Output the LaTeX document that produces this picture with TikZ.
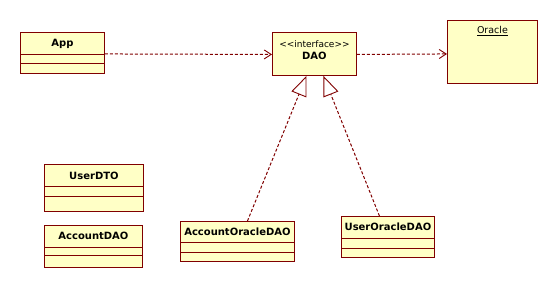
\documentclass[tikz,border=0pt]{standalone}
\usepackage{fontspec}
\setmainfont{DejaVu Sans}
\usetikzlibrary{arrows.meta}
\definecolor{umlfill}{HTML}{FFFFC6}
\definecolor{umlred}{HTML}{800000}

\tikzset{
    cls/.style={draw=umlred, fill=umlfill, line width=0.9pt, anchor=north west, inner sep=0pt},
    clsname/.style={font=\fontsize{10}{12}\selectfont\bfseries, inner sep=0pt},
    divider/.style={draw=umlred, line width=0.9pt},
    dep/.style={umlred, line width=1pt, dash pattern=on 3pt off 2pt,
        -{Straight Barb[length=7pt,width=9pt,line width=0.9pt]}},
    realize/.style={umlred, line width=1pt, dash pattern=on 3pt off 2pt,
        -{Triangle[open,length=20pt,width=16pt,fill=white,line width=0.9pt]}},
}

\begin{document}
\begin{tikzpicture}[x=1pt,y=-1pt]
    \useasboundingbox (0,0) rectangle (556,288);
    % % ----- classes ----- % %
    \node[cls, minimum width=84pt, minimum height=41pt] (app) at (20,32) {};		% App
    \node[clsname] (appname) at ([yshift=-12pt]app.north) {App};
    \draw[divider] ([yshift=-22pt]app.north west) -- ([yshift=-22pt]app.north east);
    \draw[divider] ([yshift=-31pt]app.north west) -- ([yshift=-31pt]app.north east);

    \node[cls, minimum width=84pt, minimum height=43pt] (dao) at (272,32) {};		% DAO
    \node[inner sep=0pt, font=\fontsize{9}{11}\selectfont] (daostereo) at ([yshift=-12pt]dao.north) {<\kern0pt<interface>\kern0pt>};
    \node[clsname] (daoname) at ([yshift=-24pt]dao.north) {DAO};

    \node[cls, minimum width=90pt, minimum height=63pt] (oracle) at (447,20) {};	% Oracle
    \node[inner sep=0pt, font=\fontsize{9.5}{11}\selectfont] (oraclename) at ([yshift=-11pt]oracle.north) {\underline{Oracle}};

    \node[cls, minimum width=99pt, minimum height=47pt] (userdto) at (44,164) {};	% UserDTO
    \node[clsname] (userdtoname) at ([yshift=-12pt]userdto.north) {UserDTO};
    \draw[divider] ([yshift=-22pt]userdto.north west) -- ([yshift=-22pt]userdto.north east);
    \draw[divider] ([yshift=-32pt]userdto.north west) -- ([yshift=-32pt]userdto.north east);

    \node[cls, minimum width=98pt, minimum height=42pt] (accdao) at (44,225) {};	% AccountDAO
    \node[clsname] (accdaoname) at ([yshift=-11pt]accdao.north) {AccountDAO};
    \draw[divider] ([yshift=-22pt]accdao.north west) -- ([yshift=-22pt]accdao.north east);
    \draw[divider] ([yshift=-30pt]accdao.north west) -- ([yshift=-30pt]accdao.north east);

    \node[cls, minimum width=114pt, minimum height=40pt] (accora) at (180,221) {};	% AccountOracleDAO
    \node[clsname] (accoraname) at ([yshift=-11pt]accora.north) {AccountOracleDAO};
    \draw[divider] ([yshift=-21pt]accora.north west) -- ([yshift=-21pt]accora.north east);
    \draw[divider] ([yshift=-31pt]accora.north west) -- ([yshift=-31pt]accora.north east);

    \node[cls, minimum width=93pt, minimum height=41pt] (userora) at (341,216) {};	% UserOracleDAO
    \node[clsname] (useroraname) at ([yshift=-11pt]userora.north) {UserOracleDAO};
    \draw[divider] ([yshift=-22pt]userora.north west) -- ([yshift=-22pt]userora.north east);
    \draw[divider] ([yshift=-32pt]userora.north west) -- ([yshift=-32pt]userora.north east);

    % % ----- dependencies ----- % %
    \draw[dep] ([yshift=-1pt]app.east) -- ([yshift=-0.5pt]dao.west);		% App-DAO
    \draw[dep] ([yshift=-0.5pt]dao.east) -- (dao.east -| oracle.west);		% DAO-Oracle

    % % ----- realizations ----- % %
    \draw[realize] ([xshift=10pt]accora.north) -- ([xshift=-8pt]dao.south);	% AccountOracleDAO-DAO
    \draw[realize] ([xshift=-8.5pt]userora.north) -- ([xshift=9pt]dao.south);	% UserOracleDAO-DAO
\end{tikzpicture}
\end{document}
